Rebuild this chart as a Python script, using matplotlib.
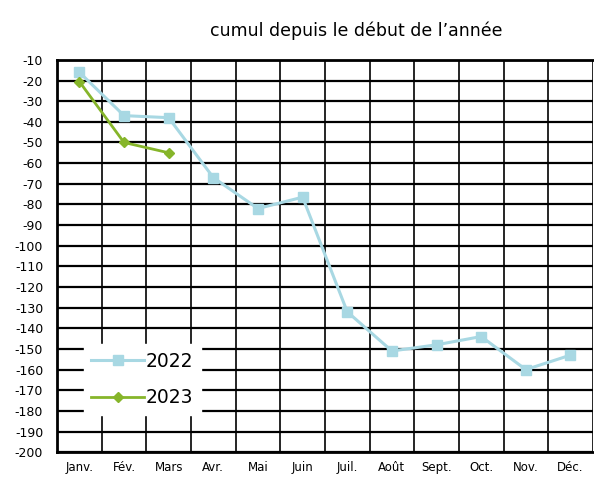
import matplotlib
matplotlib.use("Agg")
from matplotlib import pyplot as plt
import numpy as np

months = ['Janv.', 'Fév.', 'Mars', 'Avr.', 'Mai', 'Juin', 'Juil.', 'Août', 'Sept.', 'Oct.', 'Nov.', 'Déc.']
v2022 = [-16, -37, -38, -67, -82, -76.5, -132, -151, -148, -144, -160, -153]
v2023 = [-20.5, -50, -55]
yticks = list(range(-200, -9, 10))

fig = plt.figure(figsize=(5.94, 4.79), dpi=100)
ax = fig.add_axes([0.096, 0.056, 0.902, 0.819])

x = np.arange(len(months))
ax.set_xlim(-0.5, len(months) - 0.5)
ax.set_ylim(-200, -10)

# grid: thick horizontal lines, vertical lines at month boundaries
for y in yticks:
    ax.axhline(y, color='black', lw=1.6, zorder=1)
for b in np.arange(-0.5, len(months), 1.0):
    ax.axvline(b, color='black', lw=1.2, zorder=1)

ax.plot(x, v2022, color='#a8d8e3', lw=2.2, marker='s', markersize=7.5,
        label='2022', zorder=3)
ax.plot(x[:len(v2023)], v2023, color='#86b52a', lw=2, marker='D', markersize=5,
        label='2023', zorder=4)

ax.set_yticks(yticks)
ax.set_yticklabels([str(t) for t in yticks], fontsize=9)
ax.set_xticks(x)
ax.set_xticklabels(months, fontsize=8.5)
ax.tick_params(length=0, pad=6)
ax.tick_params(axis='y', pad=10)

for s in ['left', 'bottom', 'top']:
    ax.spines[s].set_linewidth(2)
ax.spines['right'].set_visible(False)

leg = ax.legend(loc='lower left', bbox_to_anchor=(0.05, 0.095), fontsize=13.5,
                frameon=True, fancybox=False, edgecolor='white', framealpha=1,
                handlelength=2.8, handletextpad=0.1, labelspacing=0.95,
                borderpad=0.4, borderaxespad=0)

fig.text(0.6, 0.935, "cumul depuis le début de l\u2019année", ha='center',
         va='center', fontsize=12.5)

fig.savefig('out.png', dpi=100)
